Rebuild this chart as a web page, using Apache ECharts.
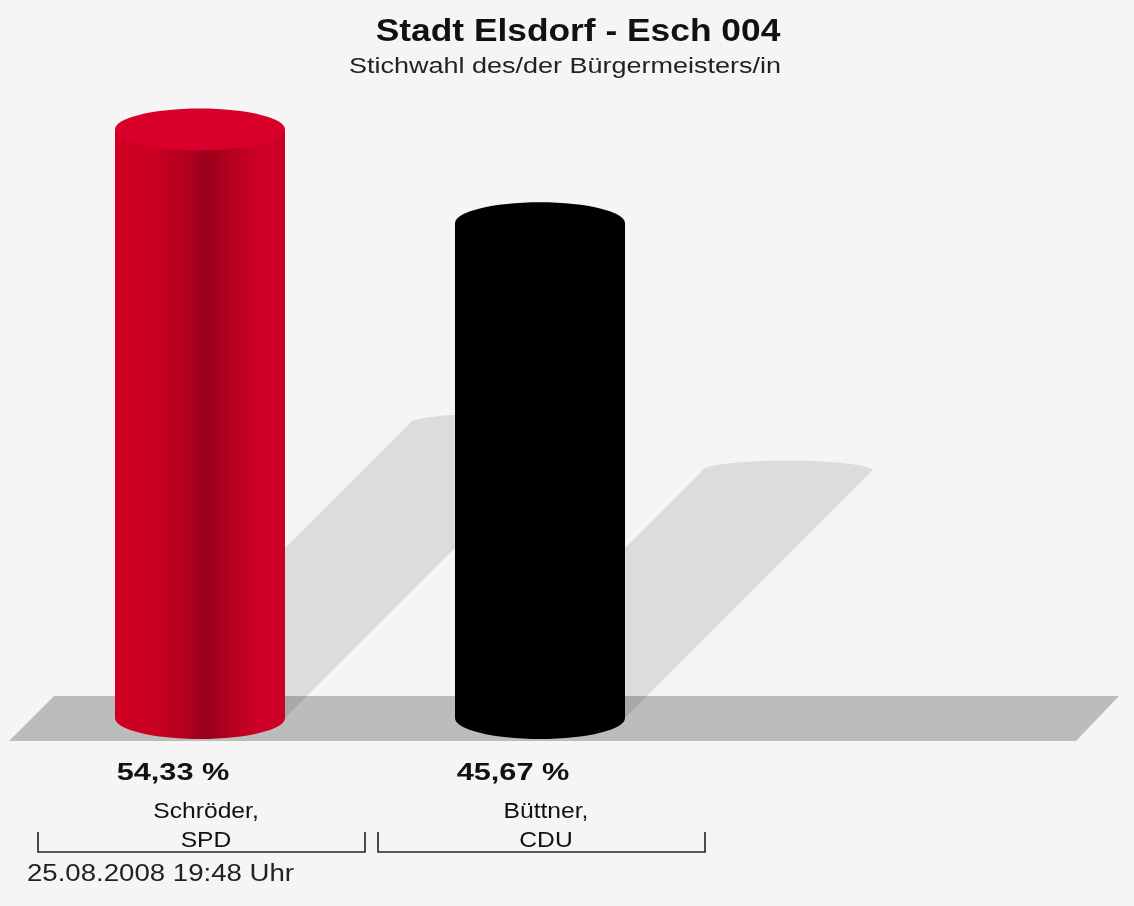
<!DOCTYPE html>
<html>
<head>
<meta charset="utf-8">
<script src="https://cdn.jsdelivr.net/npm/echarts@6/dist/echarts.min.js"></script>
<style>
html,body{margin:0;padding:0;background:#f5f5f5;}
#chart{width:1134px;height:906px;}
</style>
</head>
<body>
<div id="chart"></div>
<script>
// ---- data ----
const titleText = 'Stadt Elsdorf - Esch 004';
const subtitleText = 'Stichwahl des/der Bürgermeisters/in';
const dateText = '25.08.2008 19:48 Uhr';
const candidates = ['Schröder,', 'Büttner,'];
const parties = ['SPD', 'CDU'];
const shares = [54.33, 45.67];
const shareLabels = ['54,33 %', '45,67 %'];

// ---- styles ----
const FONT = '"Liberation Sans", Arial, Helvetica, sans-serif';
const bodyFills = [
  {type:'linear', x:0, y:0, x2:1, y2:0, colorStops:[
    {offset:0, color:'#d10022'}, {offset:0.25, color:'#c80021'},
    {offset:0.42, color:'#b3001f'}, {offset:0.54, color:'#99001c'},
    {offset:0.7, color:'#b8001f'}, {offset:0.88, color:'#d3002a'},
    {offset:1, color:'#cb0024'}]},
  '#000000'
];
const topFills = ['#d8002a', '#000000'];

const data = shares.map((v, i) => [i, v]);

const chart = echarts.init(document.getElementById('chart'));

function floorItem(params, api) {
  const base = api.coord([0, 0]);
  const y0 = base[1] - 22, y1 = base[1] + 23;
  return {
    type: 'polygon',
    shape: { points: [[54, y0], [1119, y0], [1076, y1], [9, y1]] },
    style: { fill: '#bcbcbc' }
  };
}

function shadowItem(params, api) {
  const i = api.value(0), v = api.value(1);
  const base = api.coord([i, 0]);
  const top = api.coord([i, v]);
  const bw = api.size([1, 0])[0] * 0.5;
  const rx = bw / 2, ry = 10;
  const xc = base[0], by = base[1];
  const s = (by - top[1]) / 2;
  const pts = [[xc - rx, by], [xc + rx, by]];
  const n = 30;
  for (let k = 0; k <= n; k++) {
    const t = Math.PI * k / n;
    pts.push([xc + s + rx * Math.cos(t), by - s - ry * Math.sin(t)]);
  }
  return {
    type: 'polygon',
    shape: { points: pts },
    style: { fill: 'rgba(0,0,0,0.1)' }
  };
}

function barItem(params, api) {
  const i = api.value(0), v = api.value(1);
  const base = api.coord([i, 0]);
  const top = api.coord([i, v]);
  const bw = api.size([1, 0])[0] * 0.5;
  const rx = bw / 2, ry = 21;
  const xc = base[0];
  return {
    type: 'group',
    children: [
      { type: 'ellipse', shape: { cx: xc, cy: base[1], rx: rx, ry: ry }, style: { fill: bodyFills[i] } },
      { type: 'rect', shape: { x: xc - rx, y: top[1], width: bw, height: base[1] - top[1] }, style: { fill: bodyFills[i] } },
      { type: 'ellipse', shape: { cx: xc, cy: top[1], rx: rx, ry: ry }, style: { fill: topFills[i] } }
    ]
  };
}

function labelItem(params, api) {
  const i = api.value(0);
  const base = api.coord([i, 0]);
  const xc = base[0], by = base[1];
  const half = api.size([1, 0])[0] / 2;
  const bl = xc - half + 8, br = xc + half - 5;
  const ly = by + 134;
  return {
    type: 'group',
    children: [
      { type: 'text', x: xc - 27, y: by + 55, scaleX: 1.28,
        style: { text: shareLabels[i], fontSize: 24, fontWeight: 'bold', fontFamily: FONT, fill: '#111', align: 'center', verticalAlign: 'middle' } },
      { type: 'text', x: xc + 6, y: by + 94, scaleX: 1.12,
        style: { text: candidates[i], fontSize: 22, fontFamily: FONT, fill: '#111', align: 'center', verticalAlign: 'middle' } },
      { type: 'text', x: xc + 6, y: by + 123, scaleX: 1.12,
        style: { text: parties[i], fontSize: 22, fontFamily: FONT, fill: '#111', align: 'center', verticalAlign: 'middle' } },
      { type: 'polyline', shape: { points: [[bl, ly - 20], [bl, ly], [br, ly], [br, ly - 20]] },
        style: { stroke: '#222', lineWidth: 1.6, fill: null } }
    ]
  };
}

chart.setOption({
  backgroundColor: '#f5f5f5',
  animation: false,
  grid: { left: 30, right: 424, top: 68, bottom: 188 },
  xAxis: { type: 'category', data: candidates, show: false },
  yAxis: { type: 'value', min: 0, max: 60, show: false },
  graphic: [
    { type: 'text', x: 578, y: 32, scaleX: 1.14,
      style: { text: titleText, fontSize: 31, fontWeight: 'bold', fontFamily: FONT, fill: '#111', align: 'center', verticalAlign: 'middle', textAlign: 'center', textVerticalAlign: 'middle' } },
    { type: 'text', x: 565, y: 67, scaleX: 1.2,
      style: { text: subtitleText, fontSize: 22.5, fontFamily: FONT, fill: '#222', align: 'center', verticalAlign: 'middle', textAlign: 'center', textVerticalAlign: 'middle' } },
    { type: 'text', x: 27, y: 875, scaleX: 1.2,
      style: { text: dateText, fontSize: 23, fontFamily: FONT, fill: '#222', align: 'left', verticalAlign: 'middle', textAlign: 'left', textVerticalAlign: 'middle' } }
  ],
  series: [
    { type: 'custom', z: 1, clip: false, data: [[0, 0]], renderItem: floorItem, silent: true },
    { type: 'custom', z: 2, clip: false, data: data, renderItem: shadowItem, silent: true },
    { type: 'custom', z: 3, clip: false, data: data, renderItem: barItem },
    { type: 'custom', z: 4, clip: false, data: data, renderItem: labelItem, silent: true }
  ]
});
</script>
</body>
</html>
